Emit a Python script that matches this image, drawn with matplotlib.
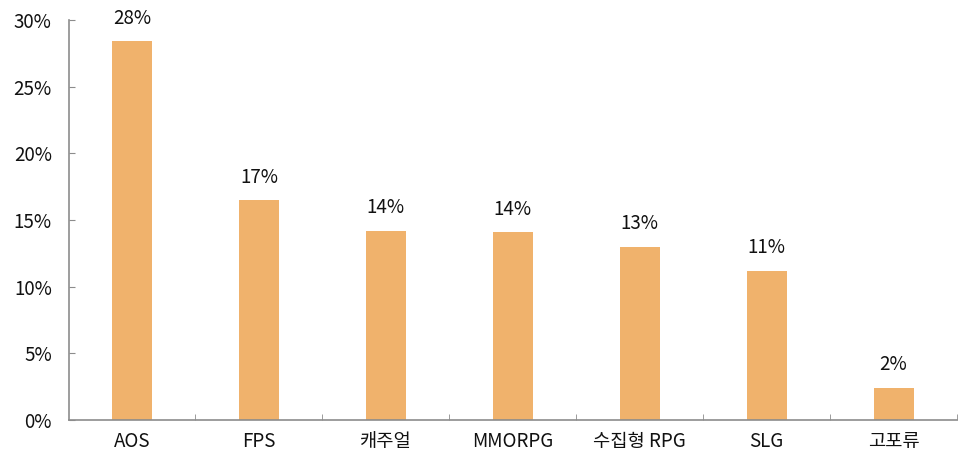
import matplotlib
matplotlib.use("Agg")
import matplotlib.pyplot as plt
from matplotlib.ticker import FuncFormatter, MultipleLocator

plt.rcParams['font.family'] = ['Noto Sans CJK KR', 'DejaVu Sans']

categories = ["AOS", "FPS", "캐주얼", "MMORPG", "수집형 RPG", "SLG", "고포류"]
values = [28.4, 16.5, 14.2, 14.1, 13.0, 11.2, 2.4]
labels = ["28%", "17%", "14%", "14%", "13%", "11%", "2%"]

fig = plt.figure(figsize=(9.65, 4.57), dpi=100)
ax = fig.add_axes([0.071, 0.081, 0.9207, 0.875])

x = list(range(len(categories)))
bars = ax.bar(x, values, width=0.315, color="#F0B26C", zorder=2)

for xi, v, lab in zip(x, values, labels):
    ax.annotate(lab, (xi, v), xytext=(0, 9), textcoords="offset points",
                ha="center", va="bottom", fontsize=13.5, color="#111111")

ax.set_xlim(-0.5, len(categories) - 0.5)
ax.set_ylim(0, 30)
ax.yaxis.set_major_locator(MultipleLocator(5))
ax.yaxis.set_major_formatter(FuncFormatter(lambda v, p: f"{v:.0f}%"))

ax.set_xticks(x)
ax.set_xticklabels(categories)
ax.set_xticks([i + 0.5 for i in range(len(categories))], minor=True)

for s in ["top", "right"]:
    ax.spines[s].set_visible(False)
for s in ["left", "bottom"]:
    ax.spines[s].set_color("#8c8c8c")
    ax.spines[s].set_linewidth(1.2)

ax.tick_params(axis="y", direction="in", length=4, color="#8c8c8c", labelsize=13.5,
               pad=12, labelcolor="#111111")
ax.tick_params(axis="x", which="major", length=0, labelsize=13.5, pad=8, labelcolor="#111111")
ax.tick_params(axis="x", which="minor", direction="in", length=4, color="#8c8c8c")

fig.savefig("out.png", dpi=100)
